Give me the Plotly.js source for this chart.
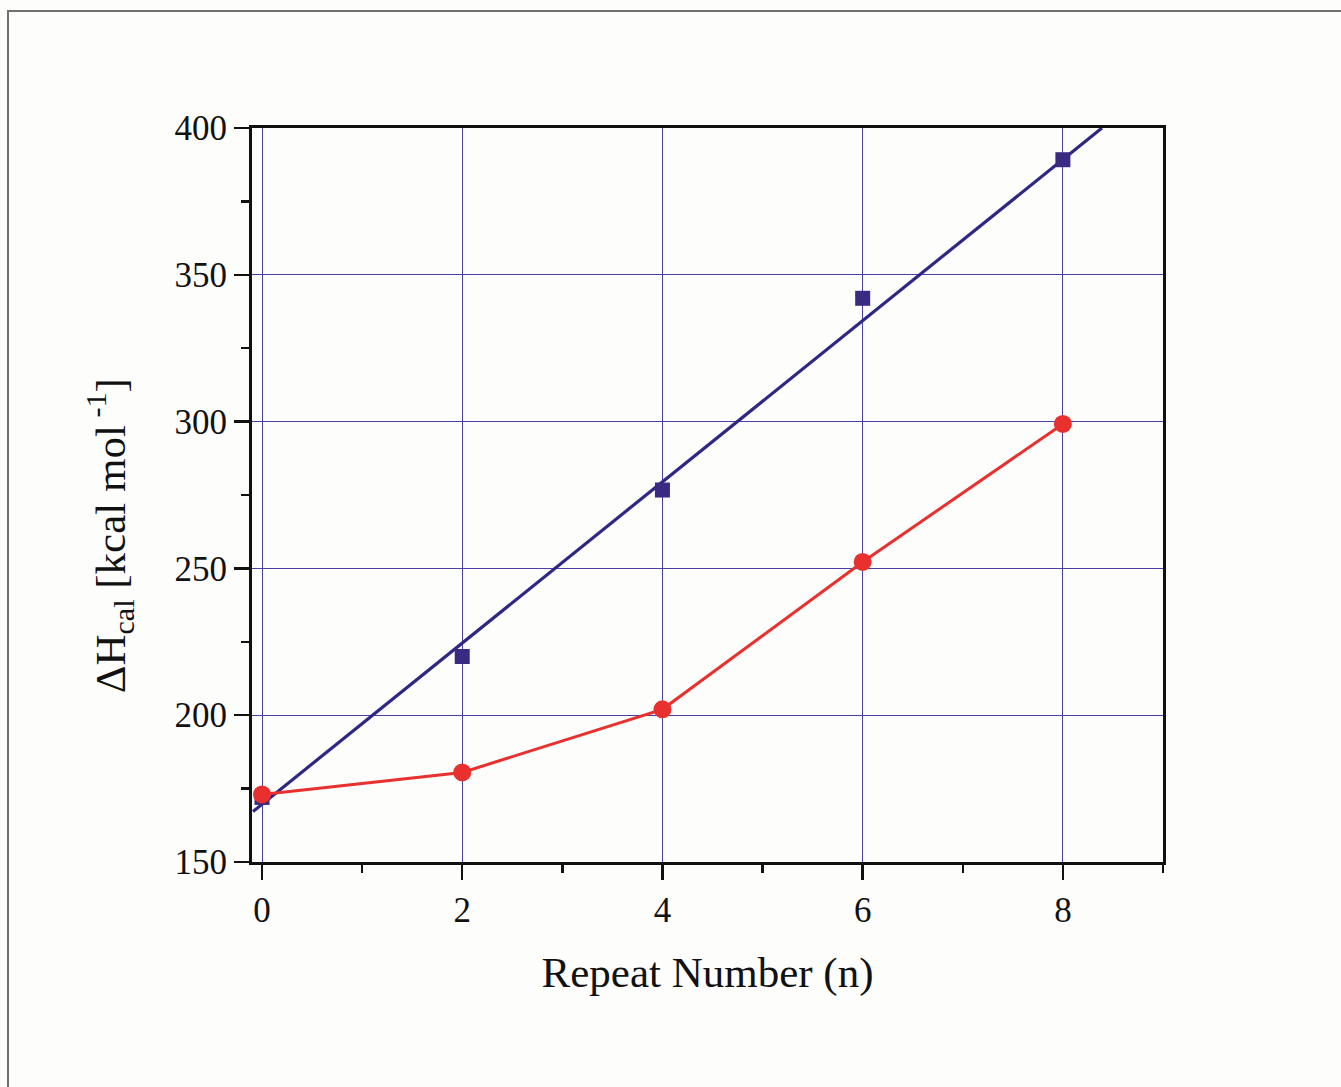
<!DOCTYPE html>
<html>
<head>
<meta charset="utf-8">
<script src="https://cdn.plot.ly/plotly-3.0.1.min.js"></script>
<style>
  html, body { margin: 0; padding: 0; background: #fdfdfb; }
  #chart { width: 1341px; height: 1087px; }
  #frame { position: absolute; left: 7px; top: 10px; width: 1400px; height: 1200px;
           border-left: 2px solid #707070; border-top: 2px solid #707070; pointer-events: none; }
</style>
</head>
<body>
<div id="chart"></div>
<div id="frame"></div>
<script>
// Data
const repeatN = [0, 2, 4, 6, 8];
const dhBlue = [172, 220, 276.7, 342, 389.2];     // squares
const dhRed  = [173, 180.5, 202, 252.2, 299.2];   // circles (connected)
const fitX = [-0.09, 8.39];                        // fitted line endpoints
const fitY = [167.2, 400];

const xTickVals = [0, 2, 4, 6, 8];
const xTickText = ['0', '2', '4', '6', '8'];
const yTickVals = [150, 200, 250, 300, 350, 400];
const yTickText = ['150', '200', '250', '300', '350', '400'];
const xTitle = 'Repeat Number (n)';
const yTitle = 'ΔH<sub>cal</sub> [kcal mol<sup> -1</sup>]';

const blue = '#2f2785';
const red = '#e8302e';
const grid = '#4a3faa';
const fontFam = '"Liberation Serif", "Times New Roman", serif';

const traces = [
  { x: fitX, y: fitY, mode: 'lines', line: { color: blue, width: 3.2 }, hoverinfo: 'skip' },
  { x: repeatN, y: dhBlue, mode: 'markers',
    marker: { symbol: 'square', size: 15, color: '#3a2a82' } },
  { x: repeatN, y: dhRed, mode: 'lines+markers',
    line: { color: red, width: 3 }, marker: { symbol: 'circle', size: 18, color: red } }
];

const axisCommon = {
  showline: true, linecolor: '#111', linewidth: 3, mirror: true,
  ticks: 'outside', ticklen: 15, tickwidth: 2.5, tickcolor: '#111',
  showgrid: true, gridcolor: grid, gridwidth: 1, zeroline: false,
  tickfont: { family: fontFam, size: 35, color: '#111' }
};

const layout = {
  width: 1341, height: 1087,
  paper_bgcolor: 'rgba(0,0,0,0)', plot_bgcolor: 'rgba(0,0,0,0)',
  showlegend: false,
  margin: { l: 252, r: 178, t: 128, b: 225 },
  xaxis: Object.assign({}, axisCommon, {
    range: [-0.1, 9], tickmode: 'array', tickvals: xTickVals, ticktext: xTickText,
    minor: { dtick: 1, tick0: 0, ticks: 'outside', ticklen: 8, tickwidth: 2.5, tickcolor: '#111', showgrid: false },
    title: { text: xTitle, font: { family: fontFam, size: 43, color: '#111' }, standoff: 28 }
  }),
  yaxis: Object.assign({}, axisCommon, {
    range: [150, 400], tickmode: 'array', tickvals: yTickVals, ticktext: yTickText,
    minor: { dtick: 25, tick0: 150, ticks: 'outside', ticklen: 8, tickwidth: 2.5, tickcolor: '#111', showgrid: false }
  }),
  annotations: [{
    text: yTitle, textangle: -90, showarrow: false,
    xref: 'paper', yref: 'paper', x: -0.156, y: 0.445, xanchor: 'center', yanchor: 'middle',
    font: { family: fontFam, size: 43, color: '#111' }
  }]
};

Plotly.newPlot('chart', traces, layout, { staticPlot: true, displayModeBar: false });
</script>
</body>
</html>
